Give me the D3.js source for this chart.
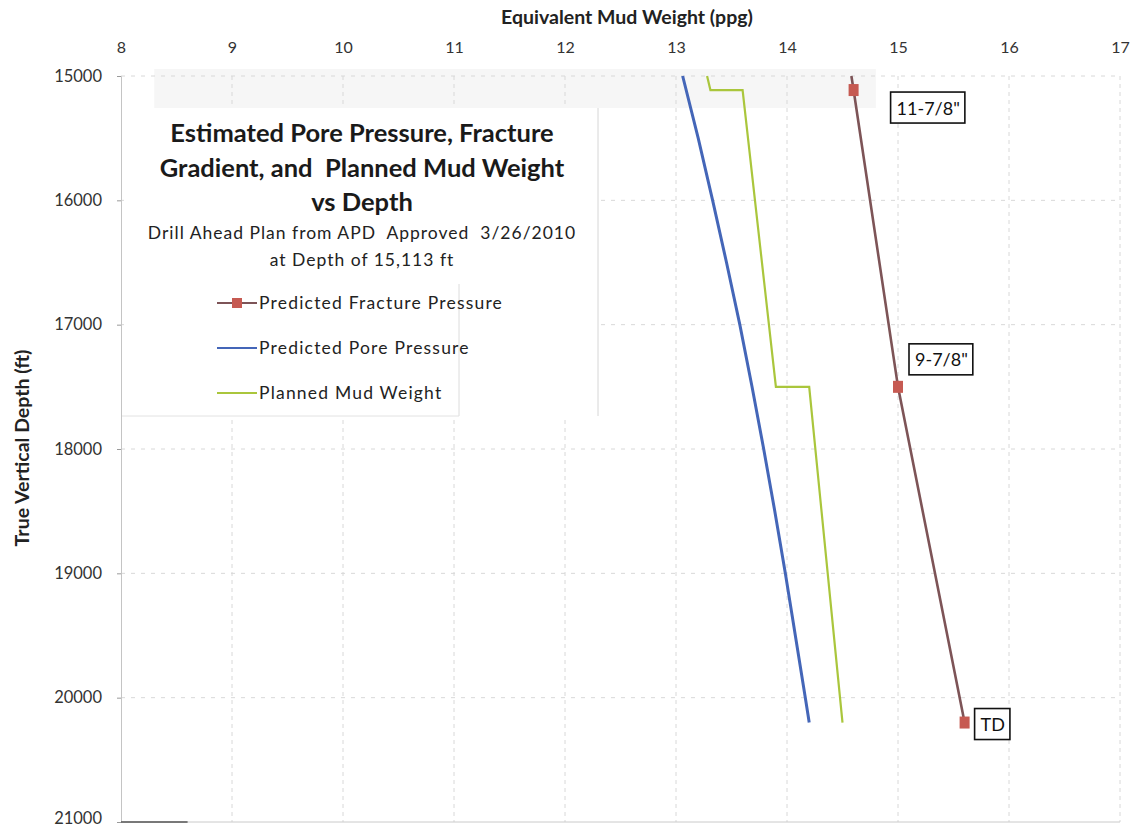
<!DOCTYPE html>
<html>
<head>
<meta charset="utf-8">
<script src="https://cdn.jsdelivr.net/npm/d3@7"></script>
<style>
  html, body { margin: 0; padding: 0; background: #fff; }
  svg { display: block; font-family: Lato, "Open Sans", sans-serif; }
  text { white-space: pre; }
</style>
</head>
<body>
<svg id="chart" width="1137" height="829"></svg>
<script>
// Depths (ft) and equivalent mud weights (ppg)
const poreDepth    = [15000, 15500, 16000, 16500, 17000, 17500, 18000, 18500, 19000, 19500, 20000, 20200];
const porePpg      = [13.06, 13.20, 13.33, 13.455, 13.575, 13.685, 13.79, 13.89, 13.985, 14.075, 14.165, 14.20];

const mudDepth     = [15000, 15113, 15113, 17500, 17500, 20200];
const mudPpg       = [13.28, 13.31, 13.60, 13.90, 14.20, 14.50];

const fracDepth    = [15000, 15113, 17500, 20200];
const fracPpg      = [14.58, 14.60, 15.00, 15.60];
const fracMarked   = [false, true, true, true];

const casingDepth  = [15113, 17500, 20200];
const casingLabel  = ['11-7/8"', '9-7/8"', 'TD'];

const xTicks = [8, 9, 10, 11, 12, 13, 14, 15, 16, 17];
const yTicks = [15000, 16000, 17000, 18000, 19000, 20000, 21000];

const titleLines = ["Estimated Pore Pressure, Fracture", "Gradient, and  Planned Mud Weight", "vs Depth"];
const subLines   = ["Drill Ahead Plan from APD  Approved  3/26/2010", "at Depth of 15,113 ft"];
const seriesNames = ["Predicted Fracture Pressure", "Predicted Pore Pressure", "Planned Mud Weight"];

const C = { frac: "#7d5457", fracMark: "#c65a52", pore: "#4466b8", mud: "#aac63c", grid: "#d8d8d8" };

const svg = d3.select("#chart");
const x = d3.scaleLinear().domain([8, 17]).range([121, 1120]);
const y = d3.scaleLinear().domain([15000, 21000]).range([76, 822]);

// faint band along the top of the plot area
svg.append("rect").attr("x", x(8.3)).attr("y", 69).attr("width", x(14.8) - x(8.3)).attr("height", 39)
  .attr("fill", "#f6f6f6");

// gridlines
svg.append("g").selectAll("line").data(xTicks.slice(1)).join("line")
  .attr("x1", d => x(d)).attr("x2", d => x(d)).attr("y1", y(15000)).attr("y2", y(21000))
  .attr("stroke", C.grid).attr("stroke-width", 1).attr("stroke-dasharray", "4,4");
svg.append("g").selectAll("line").data(yTicks.slice(0, -1)).join("line")
  .attr("x1", x(8)).attr("x2", x(17)).attr("y1", d => y(d)).attr("y2", d => y(d))
  .attr("stroke", C.grid).attr("stroke-width", 1).attr("stroke-dasharray", "4,6");

// title / legend panel
svg.append("rect").attr("x", 124).attr("y", 108).attr("width", 474).attr("height", 309).attr("fill", "#fff");
svg.append("line").attr("x1", 598).attr("x2", 598).attr("y1", 108).attr("y2", 416).attr("stroke", "#d6d6d6");
svg.append("line").attr("x1", 459).attr("x2", 459).attr("y1", 284).attr("y2", 416).attr("stroke", "#dcdcdc");
svg.append("line").attr("x1", 122).attr("x2", 459).attr("y1", 416).attr("y2", 416).attr("stroke", "#e2e2e2");

// axes
const xAxis = d3.axisTop(x).tickValues(xTicks).tickSize(0).tickPadding(23).tickFormat(d3.format("d"));
const gx = svg.append("g").attr("transform", `translate(0,${y(15000)})`).call(xAxis);
gx.select(".domain").remove();
gx.selectAll("text").attr("font-size", 16).attr("fill", "#333").attr("font-family", "Lato, sans-serif");

const yAxis = d3.axisLeft(y).tickValues(yTicks).tickSize(4).tickPadding(15).tickFormat(d3.format("d"));
const gy = svg.append("g").attr("transform", `translate(${x(8)},0)`).call(yAxis);
gy.select(".domain").attr("stroke", "#c4c4c4");
gy.selectAll(".tick line").attr("stroke", "#9a9a9a");
gy.selectAll("text").attr("font-size", 16.5).attr("fill", "#333").attr("font-family", "Lato, sans-serif")
  .attr("dy", d => d === 21000 ? "0.12em" : "0.32em");

svg.append("line").attr("x1", x(8)).attr("x2", x(17)).attr("y1", y(21000)).attr("y2", y(21000))
  .attr("stroke", "#cacaca");
svg.append("line").attr("x1", x(8)).attr("x2", x(8.6)).attr("y1", y(21000)).attr("y2", y(21000))
  .attr("stroke", "#555").attr("stroke-width", 1.5);

// axis titles
svg.append("text").attr("x", 627).attr("y", 24).attr("text-anchor", "middle")
  .attr("font-size", 19.5).attr("font-weight", "bold").attr("fill", "#222").text("Equivalent Mud Weight (ppg)");
svg.append("text").attr("transform", "translate(29,448) rotate(-90)").attr("text-anchor", "middle")
  .attr("font-size", 19.5).attr("font-weight", "bold").attr("fill", "#222").text("True Vertical Depth (ft)");

// series lines
const line = d3.line().x(d => x(d[0])).y(d => y(d[1]));
const smooth = d3.line().x(d => x(d[0])).y(d => y(d[1])).curve(d3.curveMonotoneY);
const zip = (v, d) => v.map((val, i) => [val, d[i]]);

svg.append("path").datum(zip(porePpg, poreDepth)).attr("d", smooth)
  .attr("fill", "none").attr("stroke", C.pore).attr("stroke-width", 3).attr("stroke-linejoin", "round");
svg.append("path").datum(zip(mudPpg, mudDepth)).attr("d", line)
  .attr("fill", "none").attr("stroke", C.mud).attr("stroke-width", 2.2);
svg.append("path").datum(zip(fracPpg, fracDepth)).attr("d", line)
  .attr("fill", "none").attr("stroke", C.frac).attr("stroke-width", 2.6);
svg.selectAll(".fmark").data(zip(fracPpg, fracDepth).filter((d, i) => fracMarked[i])).join("rect")
  .attr("class", "fmark")
  .attr("x", d => x(d[0]) - 5).attr("y", d => y(d[1]) - 6).attr("width", 10).attr("height", 12)
  .attr("fill", C.fracMark);

// casing callouts
const calloutShift = [[37, 2], [11, -43], [10, -14]];
casingDepth.forEach((dep, i) => {
  const fx = x(fracPpg[fracDepth.indexOf(dep)]);
  const fy = y(dep);
  const g = svg.append("g").attr("transform", `translate(${fx + calloutShift[i][0]},${fy + calloutShift[i][1]})`);
  const t = g.append("text").attr("font-size", 18).attr("fill", "#111").attr("font-family", "Lato, sans-serif")
    .attr("x", 6).attr("y", 22.5).text(casingLabel[i]);
  const w = t.node().getComputedTextLength() + 11;
  g.insert("rect", "text").attr("width", w).attr("height", 31)
    .attr("fill", "#fff").attr("stroke", "#111").attr("stroke-width", 1.6);
});

// chart title block
const cx = 362;
titleLines.forEach((s, i) => {
  svg.append("text").attr("x", cx).attr("y", 142 + i * 34.5).attr("text-anchor", "middle")
    .attr("font-size", 25.5).attr("font-weight", "bold").attr("fill", "#1a1a1a").text(s);
});
subLines.forEach((s, i) => {
  svg.append("text").attr("x", cx).attr("y", 239 + i * 27).attr("text-anchor", "middle")
    .attr("font-size", 17.5).attr("letter-spacing", 1.0).attr("fill", "#222").text(s);
});

// legend
const legColors = [C.frac, C.pore, C.mud];
seriesNames.forEach((s, i) => {
  const ly = 303 + i * 45;
  svg.append("line").attr("x1", 217).attr("x2", 257).attr("y1", ly).attr("y2", ly)
    .attr("stroke", legColors[i]).attr("stroke-width", 2);
  if (i === 0) {
    svg.append("rect").attr("x", 232).attr("y", ly - 5).attr("width", 10).attr("height", 10).attr("fill", C.fracMark);
  }
  svg.append("text").attr("x", 259).attr("y", ly + 6).attr("font-size", 17.5).attr("fill", "#222")
    .attr("letter-spacing", 1.2).text(s);
});
</script>
</body>
</html>
